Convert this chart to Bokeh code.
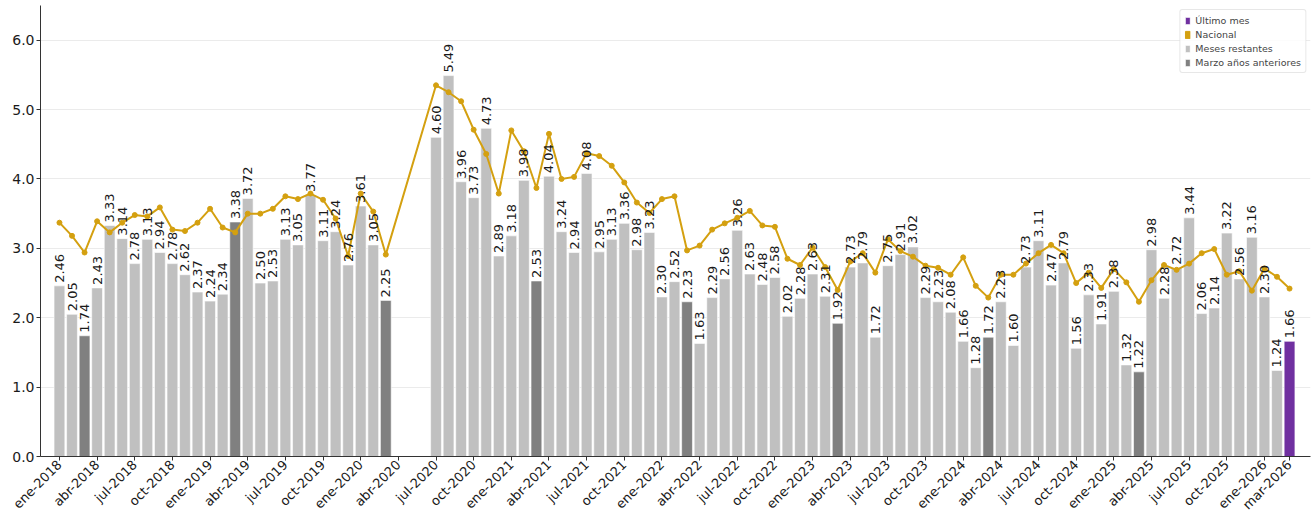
import math
from bokeh.plotting import figure
from bokeh.models import ColumnDataSource, FixedTicker, Legend, LegendItem, Range1d
from bokeh.core.properties import value
from bokeh.embed import file_html
from bokeh.resources import INLINE

month_names = ["ene", "feb", "mar", "abr", "may", "jun", "jul", "ago", "sep", "oct", "nov", "dic"]
missing = ["abr-2020", "may-2020", "jun-2020"]
all_months = [f"{m}-{y}" for y in range(2018, 2027) for m in month_names][:99]
meses = [m for m in all_months if m not in missing]

valores = [
    2.46, 2.05, 1.74, 2.43, 3.33, 3.14, 2.78, 3.13, 2.94, 2.78, 2.62, 2.37,  # 2018
    2.24, 2.34, 3.38, 3.72, 2.50, 2.53, 3.13, 3.05, 3.77, 3.11, 3.24, 2.76,  # 2019
    3.61, 3.05, 2.25, 4.60, 5.49, 3.96, 3.73, 4.73, 2.89,                    # 2020
    3.18, 3.98, 2.53, 4.04, 3.24, 2.94, 4.08, 2.95, 3.13, 3.36, 2.98, 3.23,  # 2021
    2.30, 2.52, 2.23, 1.63, 2.29, 2.56, 3.26, 2.63, 2.48, 2.58, 2.02, 2.28,  # 2022
    2.63, 2.31, 1.92, 2.73, 2.79, 1.72, 2.75, 2.91, 3.02, 2.29, 2.23, 2.08,  # 2023
    1.66, 1.28, 1.72, 2.23, 1.60, 2.73, 3.11, 2.47, 2.79, 1.56, 2.33, 1.91,  # 2024
    2.38, 1.32, 1.22, 2.98, 2.28, 2.72, 3.44, 2.06, 2.14, 3.22, 2.56, 3.16,  # 2025
    2.30, 1.24, 1.66,                                                        # 2026
]

nacional = [
    3.37, 3.18, 2.94, 3.39, 3.23, 3.37, 3.48, 3.46, 3.59, 3.27, 3.25, 3.37,  # 2018
    3.57, 3.30, 3.23, 3.50, 3.50, 3.57, 3.75, 3.71, 3.79, 3.70, 3.43, 2.89,  # 2019
    3.79, 3.53, 2.91, 5.35, 5.25, 5.12, 4.71, 4.36, 3.79,                    # 2020
    4.70, 4.40, 3.87, 4.65, 4.00, 4.03, 4.37, 4.33, 4.19, 3.95, 3.66, 3.51,  # 2021
    3.71, 3.75, 2.97, 3.04, 3.27, 3.36, 3.44, 3.54, 3.33, 3.31, 2.85, 2.76,  # 2022
    3.01, 2.73, 2.40, 2.81, 2.93, 2.65, 3.13, 2.96, 2.88, 2.75, 2.72, 2.62,  # 2023
    2.87, 2.46, 2.29, 2.62, 2.62, 2.78, 2.93, 3.05, 2.93, 2.50, 2.65, 2.43,  # 2024
    2.70, 2.51, 2.23, 2.54, 2.76, 2.69, 2.78, 2.93, 2.99, 2.62, 2.67, 2.39,  # 2025
    2.71, 2.59, 2.42,                                                        # 2026
]

tick_labels = [
    "ene-2018", "abr-2018", "jul-2018", "oct-2018",
    "ene-2019", "abr-2019", "jul-2019", "oct-2019",
    "ene-2020", "abr-2020", "jul-2020", "oct-2020",
    "ene-2021", "abr-2021", "jul-2021", "oct-2021",
    "ene-2022", "abr-2022", "jul-2022", "oct-2022",
    "ene-2023", "abr-2023", "jul-2023", "oct-2023",
    "ene-2024", "abr-2024", "jul-2024", "oct-2024",
    "ene-2025", "abr-2025", "jul-2025", "oct-2025",
    "ene-2026", "mar-2026",
]

C_LAST = "#7030a0"
C_NAC = "#d4a010"
C_REST = "#c0c0c0"
C_MAR = "#808080"
FONT = "DejaVu Sans"

xs = [all_months.index(m) for m in meses]
last = meses[-1]

def subset(pred):
    d = {"x": [], "top": [], "label": []}
    for m, x, v in zip(meses, xs, valores):
        if pred(m):
            d["x"].append(x)
            d["top"].append(v)
            d["label"].append(f"{v:.2f}")
    return ColumnDataSource(d)

src_rest = subset(lambda m: not m.startswith("mar-") and m != last)
src_mar = subset(lambda m: m.startswith("mar-") and m != last)
src_last = subset(lambda m: m == last)

p = figure(width=1316, height=520, output_backend="svg", toolbar_location=None,
           x_range=Range1d(-1.51, 99.67), y_range=Range1d(0, 6.5),
           min_border_left=40, min_border_right=6, min_border_top=5, min_border_bottom=10)
p.outline_line_color = None
p.xgrid.grid_line_color = None
p.ygrid.grid_line_color = "#ebebeb"
p.ygrid.grid_line_width = 1

bw = 0.86
r_rest = p.vbar(x="x", top="top", width=bw, source=src_rest, fill_color=C_REST,
                line_color="white", line_width=0.6)
r_mar = p.vbar(x="x", top="top", width=bw, source=src_mar, fill_color=C_MAR,
               line_color="white", line_width=0.6)
r_last = p.vbar(x="x", top="top", width=bw, source=src_last, fill_color=C_LAST,
                line_color="white", line_width=0.6)
r_nac_dummy = p.vbar(x=[-50], top=[0], width=bw, fill_color=C_NAC, line_color=C_NAC)

nac_src = ColumnDataSource({"x": xs, "y": nacional})
p.line("x", "y", source=nac_src, line_color=C_NAC, line_width=2)
p.scatter("x", "y", source=nac_src, size=5, fill_color=C_NAC, line_color=C_NAC)

for s in (src_rest, src_mar, src_last):
    p.text("x", "top", text="label", source=s, angle=math.pi / 2,
           text_align="left", text_baseline="middle", y_offset=-3,
           text_font=value(FONT), text_font_size="13px", text_color="#1a1a1a")

ticks = [all_months.index(t) for t in tick_labels]
p.xaxis.ticker = FixedTicker(ticks=ticks)
p.xaxis.major_label_overrides = {t: l for t, l in zip(ticks, tick_labels)}
p.xaxis.major_label_orientation = math.pi / 4
p.yaxis.ticker = FixedTicker(ticks=[0, 1, 2, 3, 4, 5, 6])
p.yaxis.major_label_overrides = {i: f"{i:.1f}" for i in range(7)}
for ax in (p.xaxis, p.yaxis):
    ax.major_label_text_font = FONT
    ax.major_label_text_color = "#1a1a1a"
    ax.axis_line_color = "#333333"
    ax.major_tick_line_color = "#333333"
    ax.major_tick_out = 4
    ax.major_tick_in = 0
    ax.minor_tick_line_color = None
    ax.major_label_standoff = 2
p.xaxis.major_label_text_font_size = "13px"
p.yaxis.major_label_text_font_size = "14px"

legend = Legend(items=[
    LegendItem(label="Último mes", renderers=[r_last]),
    LegendItem(label="Nacional", renderers=[r_nac_dummy]),
    LegendItem(label="Meses restantes", renderers=[r_rest]),
    LegendItem(label="Marzo años anteriores", renderers=[r_mar]),
], location="top_right")
legend.label_text_font = FONT
legend.label_text_font_size = "9.5px"
legend.label_height = 12
legend.glyph_height = 9
legend.glyph_width = 6
legend.spacing = 2
legend.padding = 4
legend.margin = 4
legend.border_line_color = "#d0d0d0"
legend.border_radius = 3
legend.background_fill_alpha = 0.85
legend.label_standoff = 5
p.add_layout(legend)

open("out.html", "w").write(file_html(p, INLINE))
